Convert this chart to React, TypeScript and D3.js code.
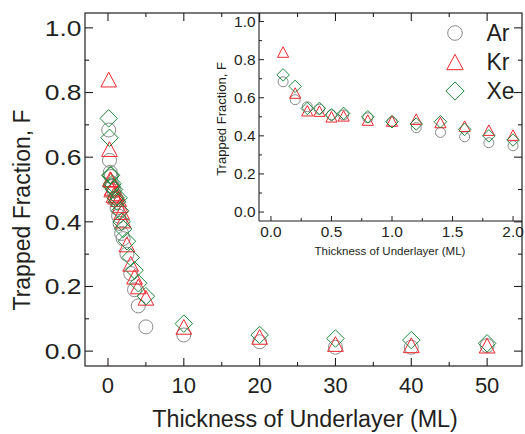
import React from "react";
import * as d3 from "d3";

// ---------- data ----------
const thickness = [0.1, 0.2, 0.3, 0.4, 0.5, 0.6, 0.8, 1.0, 1.2, 1.4, 1.6, 1.8, 2.0, 2.5, 3, 3.5, 4, 5, 10, 20, 30, 40, 50];
const arValues = [0.684, 0.59, 0.553, 0.54, 0.51, 0.51, 0.495, 0.474, 0.443, 0.418, 0.395, 0.364, 0.348, 0.3, 0.24, 0.19, 0.14, 0.075, 0.05, 0.029, 0.012, 0.012, 0.017];
const krValues = [0.84, 0.625, 0.532, 0.53, 0.5, 0.505, 0.483, 0.478, 0.488, 0.47, 0.451, 0.43, 0.404, 0.33, 0.27, 0.23, 0.2, 0.165, 0.075, 0.044, 0.022, 0.018, 0.017];
const xeValues = [0.72, 0.66, 0.544, 0.544, 0.51, 0.518, 0.5, 0.474, 0.462, 0.474, 0.434, 0.4, 0.378, 0.34, 0.29, 0.25, 0.21, 0.17, 0.085, 0.05, 0.039, 0.034, 0.024];
const insetMaxThickness = 2.0;

const seriesNames = ["Ar", "Kr", "Xe"];
const seriesColors = ["#8a8a8a", "#f0262e", "#1f8a3c"];
const seriesShapes = ["circle", "triangle", "diamond"];

const mainXTicks = [0, 10, 20, 30, 40, 50];
const mainXMinor = [5, 15, 25, 35, 45];
const mainYTicks = [0, 0.2, 0.4, 0.6, 0.8, 1.0];
const mainYMinor = [0.1, 0.3, 0.5, 0.7, 0.9];
const insetXTicks = [0, 0.5, 1.0, 1.5, 2.0];
const insetXMinor = [0.25, 0.75, 1.25, 1.75];
const insetYTicks = [0, 0.2, 0.4, 0.6, 0.8, 1.0];
const insetYMinor = [0.1, 0.3, 0.5, 0.7, 0.9];

const xTitle = "Thickness of Underlayer (ML)";
const yTitle = "Trapped Fraction, F";

// ---------- layout ----------
const W = 525, H = 434;
const FONT = "'Liberation Sans', Arial, Helvetica, sans-serif";
const INK = "#231f20";

const mx = d3.scaleLinear().domain([-3.03, 54.6]).range([85, 522]);
const my = d3.scaleLinear().domain([-0.046, 1.046]).range([366, 13]);
const ix = d3.scaleLinear().domain([-0.099, 2.074]).range([259, 522]);
const iy = d3.scaleLinear().domain([-0.047, 1.045]).range([221, 13]);

function shapePath(shape: string, cx: number, cy: number, s: number): string {
  const p = d3.path();
  if (shape === "circle") {
    p.moveTo(cx + s, cy);
    p.arc(cx, cy, s, 0, Math.PI * 2);
  } else if (shape === "triangle") {
    const hw = s * 1.12, h = s * 1.05;
    p.moveTo(cx, cy - h);
    p.lineTo(cx + hw, cy + h);
    p.lineTo(cx - hw, cy + h);
    p.closePath();
  } else {
    const d = s * 1.25;
    p.moveTo(cx, cy - d);
    p.lineTo(cx + d, cy);
    p.lineTo(cx, cy + d);
    p.lineTo(cx - d, cy);
    p.closePath();
  }
  return p.toString();
}

const allSeries = [arValues, krValues, xeValues];

export default function App() {
  const tickLen = 8, minorLen = 4;
  const iTick = 5, iMinor = 3;
  return (
    <svg width={W} height={H} style={{ position: "absolute", left: 0, top: 0, background: "#fff" }} fontFamily={FONT}>
      <rect x={0} y={0} width={W} height={H} fill="#fff" />
      {/* main frame */}
      <rect x={mx.range()[0]} y={my.range()[1]} width={mx.range()[1] - mx.range()[0]} height={my.range()[0] - my.range()[1]} fill="none" stroke={INK} strokeWidth={1.2} />
      {/* main ticks */}
      {mainXTicks.map((t) => (
        <g key={"mxt" + t}>
          <line x1={mx(t)} x2={mx(t)} y1={my.range()[0]} y2={my.range()[0] - tickLen} stroke={INK} strokeWidth={1.1} />
          <line x1={mx(t)} x2={mx(t)} y1={my.range()[1]} y2={my.range()[1] + tickLen} stroke={INK} strokeWidth={1.1} />
          <text x={mx(t)} y={393} textAnchor="middle" fontSize={22} fill={INK}>{t}</text>
        </g>
      ))}
      {mainXMinor.map((t) => (
        <g key={"mxm" + t}>
          <line x1={mx(t)} x2={mx(t)} y1={my.range()[0]} y2={my.range()[0] - minorLen} stroke={INK} strokeWidth={1.1} />
          <line x1={mx(t)} x2={mx(t)} y1={my.range()[1]} y2={my.range()[1] + minorLen} stroke={INK} strokeWidth={1.1} />
        </g>
      ))}
      {mainYTicks.map((t) => (
        <g key={"myt" + t}>
          <line x1={mx.range()[0]} x2={mx.range()[0] + tickLen} y1={my(t)} y2={my(t)} stroke={INK} strokeWidth={1.1} />
          <line x1={mx.range()[1]} x2={mx.range()[1] - tickLen} y1={my(t)} y2={my(t)} stroke={INK} strokeWidth={1.1} />
          <text transform={`translate(81.5,${my(t)}) scale(1.2,1)`} dy="0.36em" textAnchor="end" fontSize={22} fill={INK}>{t.toFixed(1)}</text>
        </g>
      ))}
      {mainYMinor.map((t) => (
        <g key={"mym" + t}>
          <line x1={mx.range()[0]} x2={mx.range()[0] + minorLen} y1={my(t)} y2={my(t)} stroke={INK} strokeWidth={1.1} />
          <line x1={mx.range()[1]} x2={mx.range()[1] - minorLen} y1={my(t)} y2={my(t)} stroke={INK} strokeWidth={1.1} />
        </g>
      ))}
      <text x={305} y={427} textAnchor="middle" fontSize={23.3} fill={INK}>{xTitle}</text>
      <text transform={`translate(30,210) rotate(-90)`} textAnchor="middle" fontSize={23} fill={INK}>{yTitle}</text>

      {/* main data */}
      {allSeries.map((vals, si) => (
        <g key={"ms" + si} fill="none" stroke={seriesColors[si]} strokeWidth={1}>
          {vals.map((v, i) => (
            <path key={i} d={shapePath(seriesShapes[si], mx(thickness[i]), my(v), 7)} />
          ))}
        </g>
      ))}

      {/* inset axes */}
      <line x1={ix.range()[0]} x2={ix.range()[0]} y1={iy.range()[1]} y2={iy.range()[0]} stroke={INK} strokeWidth={1.1} />
      <line x1={ix.range()[0]} x2={ix.range()[1]} y1={iy.range()[0]} y2={iy.range()[0]} stroke={INK} strokeWidth={1.1} />
      {insetXTicks.map((t) => (
        <g key={"ixt" + t}>
          <line x1={ix(t)} x2={ix(t)} y1={iy.range()[0]} y2={iy.range()[0] - iTick} stroke={INK} strokeWidth={1} />
          <text transform={`translate(${ix(t)},236.5) scale(1.1,1)`} textAnchor="middle" fontSize={14} fill={INK}>{t.toFixed(1)}</text>
        </g>
      ))}
      {insetXMinor.map((t) => (
        <line key={"ixm" + t} x1={ix(t)} x2={ix(t)} y1={iy.range()[0]} y2={iy.range()[0] - iMinor} stroke={INK} strokeWidth={1} />
      ))}
      {insetYTicks.map((t) => (
        <g key={"iyt" + t}>
          <line x1={ix.range()[0]} x2={ix.range()[0] + iTick} y1={iy(t)} y2={iy(t)} stroke={INK} strokeWidth={1} />
          <text transform={`translate(255.5,${iy(t)}) scale(1.1,1)`} dy="0.36em" textAnchor="end" fontSize={14} fill={INK}>{t.toFixed(1)}</text>
        </g>
      ))}
      {insetYMinor.map((t) => (
        <line key={"iym" + t} x1={ix.range()[0]} x2={ix.range()[0] + iMinor} y1={iy(t)} y2={iy(t)} stroke={INK} strokeWidth={1} />
      ))}
      <text x={390} y={255} textAnchor="middle" fontSize={11.5} fill={INK}>{xTitle}</text>
      <text transform={`translate(226,119) rotate(-90)`} textAnchor="middle" fontSize={13} fill={INK}>{yTitle}</text>

      {/* inset data */}
      {allSeries.map((vals, si) => (
        <g key={"is" + si} fill="none" stroke={seriesColors[si]} strokeWidth={1}>
          {vals.map((v, i) =>
            thickness[i] <= insetMaxThickness ? (
              <path key={i} d={shapePath(seriesShapes[si], ix(thickness[i]), iy(v), 5)} />
            ) : null
          )}
        </g>
      ))}

      {/* legend */}
      {seriesNames.map((name, si) => (
        <g key={"lg" + si}>
          <path d={shapePath(seriesShapes[si], 455, 33 + si * 29, 7.3)} fill="none" stroke={seriesColors[si]} strokeWidth={1} />
          <text x={486.5} y={41 + si * 29} fontSize={23} fill={INK}>{name}</text>
        </g>
      ))}
    </svg>
  );
}
